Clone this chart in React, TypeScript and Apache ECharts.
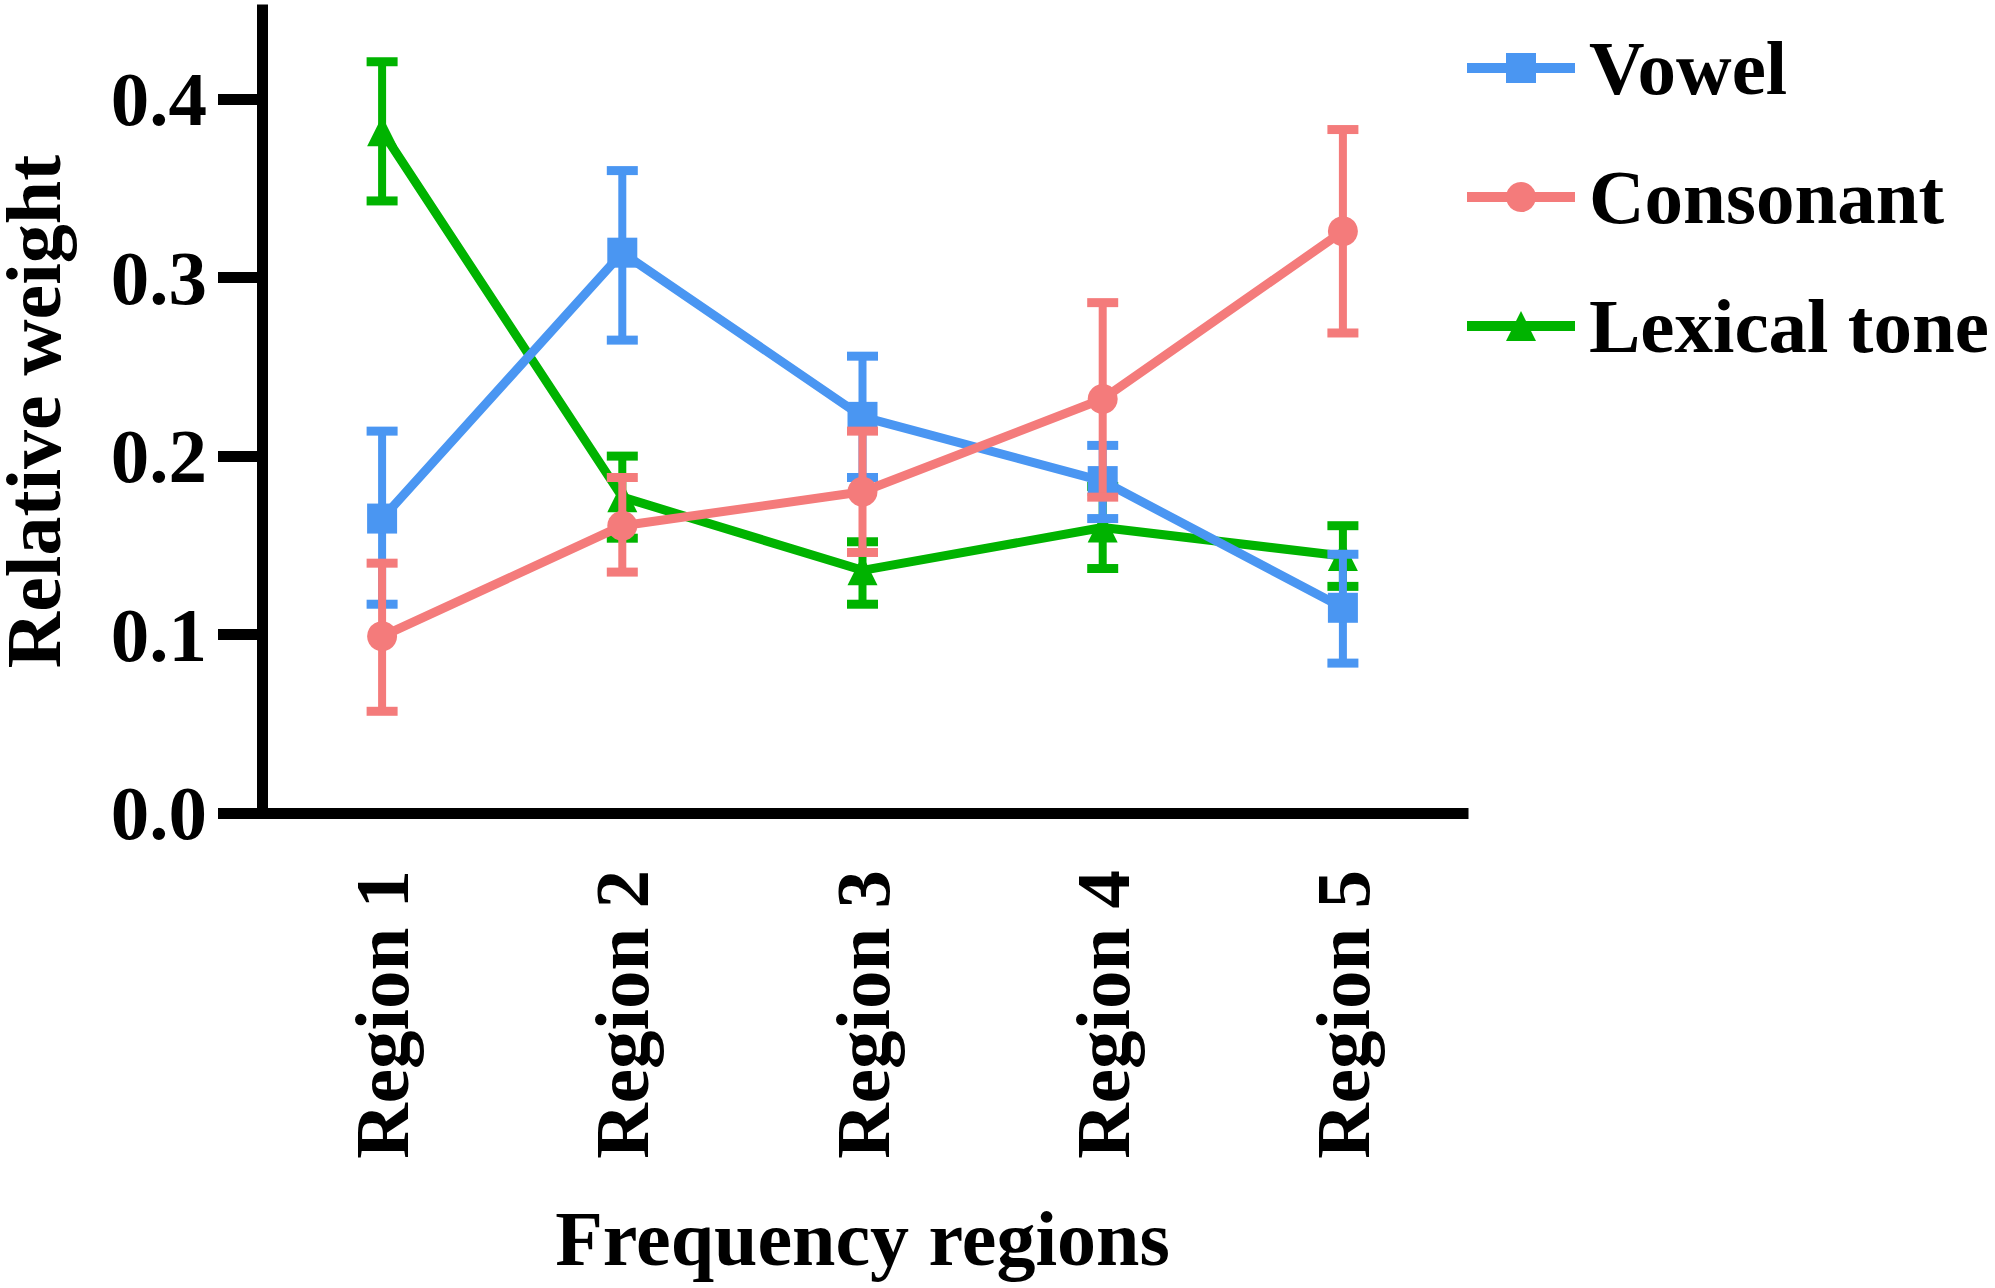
import React, { useEffect, useRef } from "react";
import * as echarts from "echarts";

const categories = ["Region 1", "Region 2", "Region 3", "Region 4", "Region 5"];
const seriesNames = ["Vowel", "Consonant", "Lexical tone"];

const vowelMean = [0.165, 0.314, 0.222, 0.186, 0.115];
const vowelUpper = [0.214, 0.36, 0.256, 0.206, 0.145];
const vowelLower = [0.117, 0.265, 0.188, 0.165, 0.084];

const consonantMean = [0.099, 0.161, 0.18, 0.232, 0.326];
const consonantUpper = [0.14, 0.188, 0.214, 0.286, 0.383];
const consonantLower = [0.057, 0.135, 0.146, 0.177, 0.269];

const toneMean = [0.382, 0.177, 0.136, 0.16, 0.144];
const toneUpper = [0.421, 0.2, 0.152, 0.183, 0.161];
const toneLower = [0.343, 0.154, 0.117, 0.137, 0.127];

const yTicks = [0, 0.1, 0.2, 0.3, 0.4];

const FONT = '"Times New Roman", "Liberation Serif", serif';
const FS = 77;
const FS_NAME = 78;
const BLUE = "#4A96F2";
const PINK = "#F47B7B";
const GREEN = "#00B300";

function errorSeries(name: string, color: string, lower: number[], upper: number[], z: number) {
  return {
    type: "custom",
    name: name + " error",
    z,
    silent: true,
    data: lower.map((lo, i) => [i, lo, upper[i]]),
    encode: { x: 0, y: [1, 2] },
    renderItem: (params: any, api: any) => {
      const idx = api.value(0);
      const lo = api.coord([idx, api.value(1)]);
      const hi = api.coord([idx, api.value(2)]);
      const hw = 15.5;
      return {
        type: "group",
        children: [
          { type: "line", shape: { x1: lo[0], y1: lo[1], x2: hi[0], y2: hi[1] }, style: { stroke: color, lineWidth: 8 } },
          { type: "line", shape: { x1: lo[0] - hw, y1: lo[1], x2: lo[0] + hw, y2: lo[1] }, style: { stroke: color, lineWidth: 9 } },
          { type: "line", shape: { x1: hi[0] - hw, y1: hi[1], x2: hi[0] + hw, y2: hi[1] }, style: { stroke: color, lineWidth: 9 } },
        ],
      };
    },
  };
}

function lineSeries(name: string, color: string, data: number[], symbol: string, z: number) {
  return {
    type: "line",
    name,
    z,
    data,
    symbol,
    symbolSize: 30,
    showSymbol: true,
    lineStyle: { color, width: 9 },
    itemStyle: { color },
  };
}

export default function App() {
  const ref = useRef<HTMLDivElement>(null);
  useEffect(() => {
    document.body.style.margin = "0";
    document.body.style.overflow = "hidden";
    if (!ref.current) return;
    const chart = echarts.init(ref.current, undefined, { renderer: "svg" });
    const axisColor = "#000";
    chart.setOption({
      animation: false,
      backgroundColor: "#fff",
      grid: { left: 262, top: 10, width: 1201, height: 803, containLabel: false, outerBoundsMode: "none" },
      legend: {
        orient: "vertical",
        left: 1462,
        top: 28,
        padding: 0,
        itemWidth: 108,
        itemHeight: 37.5,
        itemGap: 49,
        data: seriesNames,
        lineStyle: { width: 10 },
        textStyle: {
          fontFamily: FONT,
          fontWeight: "bold",
          fontSize: FS,
          color: "#000",
          lineHeight: 80,
          padding: [0, 0, 0, 9],
        },
      },
      xAxis: {
        type: "category",
        data: categories,
        boundaryGap: true,
        name: "Frequency regions",
        nameLocation: "middle",
        nameGap: 386,
        nameTextStyle: { fontFamily: FONT, fontWeight: "bold", fontSize: FS_NAME, color: "#000" },
        axisLine: { lineStyle: { color: axisColor, width: 11, cap: "square" } },
        axisTick: { alignWithLabel: true, length: 43, lineStyle: { color: axisColor, width: 11 } },
        axisLabel: {
          rotate: 90,
          margin: 57,
          fontFamily: FONT,
          fontWeight: "bold",
          fontSize: FS,
          color: "#000",
        },
        splitLine: { show: false },
      },
      yAxis: {
        type: "value",
        min: 0,
        max: 0.45,
        interval: 0.1,
        name: "Relative weight",
        nameLocation: "middle",
        nameGap: 199,
        nameTextStyle: { fontFamily: FONT, fontWeight: "bold", fontSize: FS_NAME, color: "#000", lineHeight: 60 },
        axisLine: { show: true, lineStyle: { color: axisColor, width: 11, cap: "square" } },
        axisTick: { show: true, length: 44, customValues: yTicks, lineStyle: { color: axisColor, width: 11 } },
        axisLabel: {
          margin: 55,
          customValues: yTicks,
          formatter: (v: number) => v.toFixed(1),
          fontFamily: FONT,
          fontWeight: "bold",
          fontSize: FS,
          color: "#000",
        },
        splitLine: { show: false },
      },
      series: [
        errorSeries("Lexical tone", GREEN, toneLower, toneUpper, 2),
        lineSeries("Lexical tone", GREEN, toneMean, "triangle", 3),
        errorSeries("Vowel", BLUE, vowelLower, vowelUpper, 4),
        lineSeries("Vowel", BLUE, vowelMean, "rect", 5),
        errorSeries("Consonant", PINK, consonantLower, consonantUpper, 6),
        lineSeries("Consonant", PINK, consonantMean, "circle", 7),
      ],
    });
    return () => chart.dispose();
  }, []);
  return <div ref={ref} style={{ width: 1995, height: 1288, position: "absolute", left: 0, top: 0 }} />;
}
